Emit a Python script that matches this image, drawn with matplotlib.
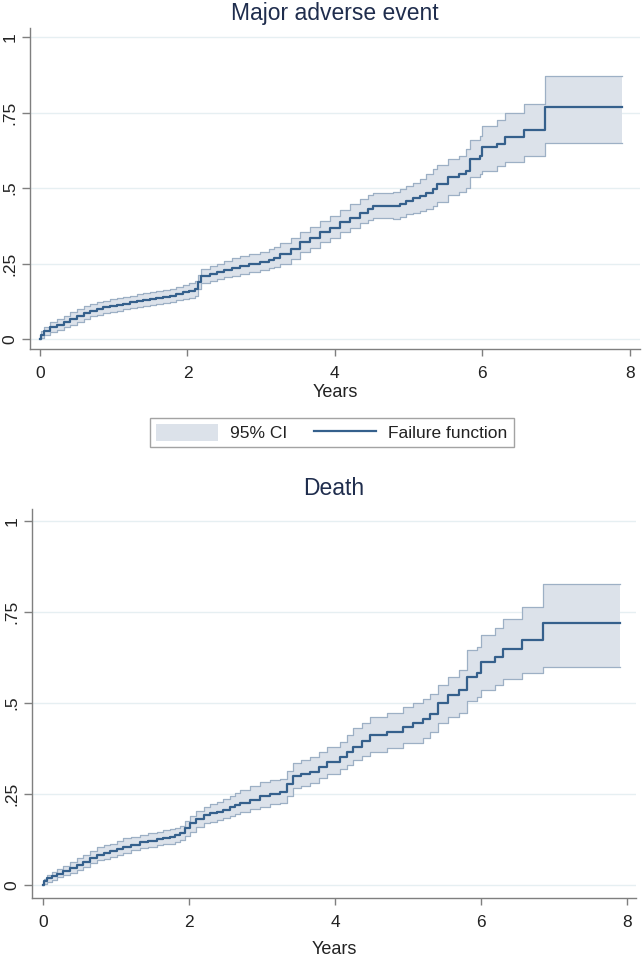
import matplotlib
matplotlib.use("Agg")
import matplotlib.pyplot as plt
from matplotlib.patches import Patch
from matplotlib.lines import Line2D

plt.rcParams['font.family'] = ['Liberation Sans', 'DejaVu Sans']

# ---------------- data ----------------
titles = ["Major adverse event", "Death"]
x_ticks = [0, 2, 4, 6, 8]
y_ticks = [0, 0.25, 0.5, 0.75, 1]
y_ticklabels = ["0", ".25", ".5", ".75", "1"]
x_label = "Years"
legend_labels = ["95% CI", "Failure function"]

mae_t = [0.00, 0.02, 0.05, 0.14, 0.23, 0.32, 0.41, 0.50, 0.59, 0.68, 0.77, 0.86, 0.95,
         1.04, 1.13, 1.22, 1.31, 1.40, 1.49, 1.58, 1.67, 1.76, 1.85, 1.94, 2.02, 2.10,
         2.14, 2.18, 2.30, 2.40, 2.50, 2.60, 2.71, 2.84, 2.98, 3.10, 3.18, 3.25, 3.40,
         3.53, 3.66, 3.80, 3.93, 4.07, 4.20, 4.34, 4.45, 4.52, 4.79, 4.88, 4.97, 5.06,
         5.15, 5.24, 5.33, 5.38, 5.53, 5.68, 5.78, 5.83, 5.97, 6.00, 6.20, 6.31, 6.56,
         6.85, 7.90]
mae_f = [0.000, 0.015, 0.028, 0.039, 0.047, 0.055, 0.066, 0.077, 0.085, 0.094, 0.100, 0.105, 0.109,
         0.113, 0.117, 0.121, 0.126, 0.130, 0.133, 0.136, 0.139, 0.143, 0.149, 0.155, 0.160, 0.166,
         0.188, 0.210, 0.216, 0.223, 0.230, 0.236, 0.243, 0.249, 0.256, 0.263, 0.270, 0.281, 0.298,
         0.320, 0.335, 0.353, 0.368, 0.386, 0.402, 0.419, 0.432, 0.439, 0.441, 0.448, 0.458, 0.466,
         0.475, 0.485, 0.497, 0.513, 0.536, 0.546, 0.557, 0.596, 0.607, 0.635, 0.646, 0.668, 0.693,
         0.769, 0.769]
mae_lo = [0.000, 0.005, 0.014, 0.024, 0.031, 0.039, 0.048, 0.057, 0.066, 0.075, 0.081, 0.086, 0.090,
          0.094, 0.098, 0.102, 0.106, 0.110, 0.113, 0.116, 0.120, 0.124, 0.128, 0.132, 0.137, 0.141,
          0.165, 0.185, 0.192, 0.199, 0.205, 0.210, 0.215, 0.222, 0.229, 0.235, 0.240, 0.248, 0.266,
          0.287, 0.302, 0.320, 0.336, 0.353, 0.368, 0.384, 0.393, 0.400, 0.396, 0.403, 0.414, 0.419,
          0.425, 0.432, 0.441, 0.455, 0.478, 0.487, 0.500, 0.535, 0.548, 0.557, 0.573, 0.586, 0.606,
          0.649, 0.649]
mae_hi = [0.000, 0.025, 0.040, 0.055, 0.066, 0.077, 0.088, 0.099, 0.108, 0.116, 0.122, 0.127, 0.131,
          0.135, 0.139, 0.143, 0.148, 0.152, 0.156, 0.160, 0.163, 0.166, 0.172, 0.179, 0.186, 0.193,
          0.213, 0.232, 0.241, 0.248, 0.258, 0.267, 0.276, 0.283, 0.289, 0.298, 0.306, 0.318, 0.334,
          0.353, 0.371, 0.392, 0.409, 0.428, 0.446, 0.464, 0.476, 0.483, 0.488, 0.497, 0.508, 0.518,
          0.530, 0.545, 0.563, 0.575, 0.595, 0.606, 0.630, 0.660, 0.672, 0.706, 0.726, 0.748, 0.778,
          0.872, 0.872]

death_t = [0.00, 0.02, 0.05, 0.12, 0.19, 0.28, 0.37, 0.46, 0.55, 0.64, 0.74, 0.83, 0.92, 1.01,
           1.10, 1.21, 1.33, 1.44, 1.56, 1.65, 1.74, 1.81, 1.88, 1.95, 2.01, 2.10, 2.20, 2.29,
           2.38, 2.47, 2.56, 2.63, 2.70, 2.83, 2.97, 3.11, 3.25, 3.34, 3.42, 3.54, 3.66, 3.78,
           3.89, 4.07, 4.16, 4.25, 4.37, 4.48, 4.71, 4.93, 5.07, 5.20, 5.30, 5.41, 5.54, 5.70,
           5.80, 5.94, 6.00, 6.19, 6.30, 6.56, 6.85, 7.90]
death_f = [0.000, 0.010, 0.018, 0.024, 0.030, 0.038, 0.046, 0.055, 0.064, 0.073, 0.082, 0.087, 0.092, 0.099,
           0.105, 0.111, 0.117, 0.122, 0.126, 0.130, 0.133, 0.137, 0.142, 0.155, 0.169, 0.181, 0.192, 0.197,
           0.201, 0.207, 0.213, 0.219, 0.224, 0.233, 0.243, 0.250, 0.256, 0.277, 0.298, 0.304, 0.311, 0.325,
           0.339, 0.352, 0.366, 0.380, 0.396, 0.412, 0.421, 0.435, 0.444, 0.455, 0.470, 0.499, 0.522, 0.536,
           0.572, 0.582, 0.613, 0.627, 0.647, 0.673, 0.719, 0.719]
death_lo = [0.000, 0.003, 0.007, 0.014, 0.021, 0.026, 0.032, 0.041, 0.050, 0.059, 0.069, 0.072, 0.076, 0.083,
            0.089, 0.095, 0.101, 0.105, 0.110, 0.112, 0.113, 0.118, 0.124, 0.135, 0.146, 0.158, 0.169, 0.174,
            0.179, 0.184, 0.188, 0.195, 0.201, 0.208, 0.215, 0.222, 0.226, 0.245, 0.266, 0.273, 0.280, 0.295,
            0.305, 0.318, 0.330, 0.343, 0.355, 0.366, 0.375, 0.389, 0.391, 0.405, 0.420, 0.444, 0.462, 0.472,
            0.504, 0.517, 0.536, 0.549, 0.565, 0.582, 0.600, 0.600]
death_hi = [0.000, 0.017, 0.027, 0.035, 0.043, 0.053, 0.064, 0.073, 0.082, 0.093, 0.105, 0.109, 0.113, 0.121,
            0.128, 0.132, 0.137, 0.142, 0.146, 0.150, 0.153, 0.157, 0.162, 0.175, 0.188, 0.202, 0.215, 0.222,
            0.229, 0.236, 0.243, 0.252, 0.261, 0.272, 0.284, 0.287, 0.290, 0.312, 0.334, 0.343, 0.352, 0.366,
            0.380, 0.394, 0.412, 0.430, 0.446, 0.462, 0.472, 0.490, 0.499, 0.510, 0.525, 0.550, 0.572, 0.591,
            0.646, 0.655, 0.687, 0.705, 0.730, 0.763, 0.827, 0.827]

series = [(mae_t, mae_f, mae_lo, mae_hi), (death_t, death_f, death_lo, death_hi)]

# ---------------- style ----------------
W, H = 644, 959
fill_c = "#dce2ea"
edge_c = "#9db0c5"
line_c = "#35608c"
grid_c = "#e6eff2"
spine_c = "#7f7f7f"
title_c = "#1f2d4d"
txt_c = "#222222"

fig = plt.figure(figsize=(W / 100, H / 100), dpi=100)

# axes rectangles in pixels: (left, top, right, bottom) and x/y limits
axes_px = [(30, 28, 640, 349), (32, 509, 636, 898)]
xlims = [(-0.136, 8.14), (-0.15, 8.12)]
ylims = [(-0.033, 1.03), (-0.036, 1.033)]
title_pads = [6, 10]
xlabel_pads = [2, 8]

for i, (t, f, lo, hi) in enumerate(series):
    l, tp, r, b = axes_px[i]
    ax = fig.add_axes([l / W, 1 - b / H, (r - l) / W, (b - tp) / H])
    ax.fill_between(t, lo, hi, step="post", color=fill_c, lw=0, zorder=2)
    ax.plot(t, lo, drawstyle="steps-post", color=edge_c, lw=0.9, zorder=3)
    ax.plot(t, hi, drawstyle="steps-post", color=edge_c, lw=0.9, zorder=3)
    ax.plot(t, f, drawstyle="steps-post", color=line_c, lw=1.6, zorder=4)
    ax.set_xlim(*xlims[i])
    ax.set_ylim(*ylims[i])
    ax.set_xticks(x_ticks)
    ax.set_yticks(y_ticks)
    ax.set_yticklabels(y_ticklabels, rotation=90, va="center")
    ax.grid(axis="y", color=grid_c, lw=1.0, zorder=0)
    ax.set_axisbelow(True)
    for s in ["top", "right"]:
        ax.spines[s].set_visible(False)
    for s in ["left", "bottom"]:
        ax.spines[s].set_color(spine_c)
        ax.spines[s].set_linewidth(1.0)
    ax.tick_params(axis="both", colors=spine_c, labelcolor=txt_c, labelsize=12.5,
                   width=1.0, direction="out")
    ax.tick_params(axis="y", pad=3, length=6)
    ax.tick_params(axis="x", pad=7.5, length=5)
    ax.set_xlabel(x_label, fontsize=13, color=txt_c, labelpad=xlabel_pads[i])
    ax.set_title(titles[i], fontsize=16.5, color=title_c, pad=title_pads[i])

handles = [Patch(facecolor=fill_c, edgecolor="none"),
           Line2D([0], [0], color=line_c, lw=1.6)]
leg = fig.legend(handles, legend_labels, loc="center", bbox_to_anchor=(331.5 / W, 1 - 432.5 / H),
                 ncol=2, frameon=True, fancybox=False, edgecolor="#8c8c8c", fontsize=12.5,
                 handlelength=3.6, handleheight=1.1, handletextpad=0.7, columnspacing=1.5,
                 borderpad=0.35)
leg.get_frame().set_linewidth(1.0)
for txt in leg.get_texts():
    txt.set_color(txt_c)

fig.savefig("out.png", dpi=100, facecolor="white")
